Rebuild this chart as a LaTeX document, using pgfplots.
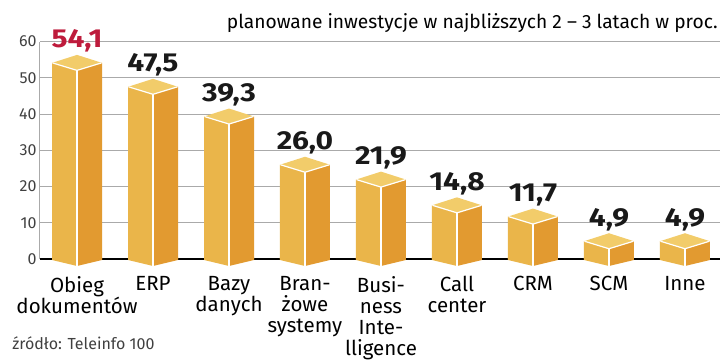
\documentclass[border=0pt]{standalone}
\usepackage{pgfplots}
\pgfplotsset{compat=1.18}
\usepackage{pgfplotstable}
\usepackage{fontspec}
\setmainfont{Fira Sans}
\newfontfamily\valfont{Fira Sans}[FakeStretch=1.15]
\definecolor{frontc}{HTML}{EAB54A}
\definecolor{sidec}{HTML}{E29A30}
\definecolor{topc}{HTML}{F2CC6A}
\definecolor{hl}{HTML}{BE1B3C}
\definecolor{gridc}{HTML}{AAAAAA}

\pgfdeclareplotmark{boxtop}{%
  \pgfpathmoveto{\pgfpoint{-25pt}{0pt}}%
  \pgfpathlineto{\pgfpoint{0pt}{8pt}}%
  \pgfpathlineto{\pgfpoint{25pt}{0pt}}%
  \pgfpathlineto{\pgfpoint{0pt}{-7.5pt}}%
  \pgfpathclose
  \pgfsetfillcolor{topc}%
  \pgfusepath{fill}%
  \pgfpathmoveto{\pgfpoint{-24.5pt}{0pt}}%
  \pgfpathlineto{\pgfpoint{0pt}{-7.5pt}}%
  \pgfpathlineto{\pgfpoint{24.5pt}{0pt}}%
  \pgfsetstrokecolor{white}%
  \pgfsetlinewidth{1.2pt}%
  \pgfusepath{stroke}%
}
\pgfdeclareplotmark{boxbottom}{%
  \pgfpathmoveto{\pgfpoint{-25pt}{1.5pt}}%
  \pgfpathlineto{\pgfpoint{-25pt}{-1pt}}%
  \pgfpathlineto{\pgfpoint{0pt}{-7pt}}%
  \pgfpathlineto{\pgfpoint{0pt}{1.5pt}}%
  \pgfpathclose
  \pgfsetfillcolor{frontc}%
  \pgfusepath{fill}%
  \pgfpathmoveto{\pgfpoint{0pt}{1.5pt}}%
  \pgfpathlineto{\pgfpoint{0pt}{-7pt}}%
  \pgfpathlineto{\pgfpoint{25pt}{-1pt}}%
  \pgfpathlineto{\pgfpoint{25pt}{1.5pt}}%
  \pgfpathclose
  \pgfsetfillcolor{sidec}%
  \pgfusepath{fill}%
  \pgfpathmoveto{\pgfpoint{0pt}{1.5pt}}%
  \pgfpathlineto{\pgfpoint{0pt}{-7pt}}%
  \pgfsetstrokecolor{white}%
  \pgfsetlinewidth{1.2pt}%
  \pgfusepath{stroke}%
}

\pgfplotstableread{
x y lab
0 54.1 54,1
1 47.5 47,5
2 39.3 39,3
3 26.0 26,0
4 21.9 21,9
5 14.8 14,8
6 11.7 11,7
7 4.9 4,9
8 4.9 4,9
}\data

\begin{document}
\begin{tikzpicture}
\path[use as bounding box] (-40pt,-102pt) rectangle (680pt,259pt);
\begin{axis}[
  at={(0pt,0pt)}, anchor=south west,
  scale only axis, width=680pt, height=217.5pt,
  xmin=-0.487, xmax=8.461, ymin=0, ymax=60,
  axis x line*=bottom, axis y line*=left,
  x axis line style={black, line width=2pt},
  y axis line style={gridc, line width=1pt},
  ytick={0,10,...,60},
  ymajorgrids, grid style={gridc, line width=0.8pt},
  xtick={0,...,8},
  xticklabels={{Obieg\\dokumentów}, ERP, {Bazy\\danych}, {Bran-\\żowe\\systemy}, {Busi-\\ness\\Inte-\\lligence}, {Call\\center}, CRM, SCM, Inne},
  major tick length=0pt,
  /pgf/number format/assume math mode=true,
  yticklabel style={font=\fontsize{16}{18}\selectfont, text=black!75},
  xticklabel style={align=center, font=\fontsize{20.5}{21}\selectfont, anchor=north, yshift=-14pt},
  title={planowane inwestycje w najbliższych 2 – 3 latach w proc.},
  title style={at={(rel axis cs:0.997,1.03)}, anchor=base east, font=\fontsize{19.2}{21}\selectfont, inner sep=0pt},
  clip=false,
]
\addplot[ybar, bar width=25pt, bar shift=-12.5pt, fill=frontc, draw=none, mark=none] table[x=x, y=y] {\data};
\addplot[ybar, bar width=25pt, bar shift=12.5pt, fill=sidec, draw=none, mark=none] table[x=x, y=y] {\data};
\addplot[ycomb, draw=white, line width=1.2pt, mark=none] table[x=x, y=y] {\data};
\addplot[only marks, mark=boxbottom] table[x=x, y expr=0] {\data};
\addplot[only marks, mark=boxtop] table[x=x, y=y] {\data};
\addplot[draw=none, mark=none, nodes near coords, point meta=explicit symbolic,
  every node near coord/.append style={anchor=base, yshift=15pt, font=\fontsize{26}{28}\selectfont\valfont\bfseries, text=hl},
  restrict x to domain=0:0] table[x=x, y=y, meta=lab] {\data};
\addplot[draw=none, mark=none, nodes near coords, point meta=explicit symbolic,
  every node near coord/.append style={anchor=base, yshift=15pt, font=\fontsize{26}{28}\selectfont\valfont\bfseries, text=black!90},
  restrict x to domain=1:8] table[x=x, y=y, meta=lab] {\data};
\node[anchor=base west, font=\fontsize{16}{18}\selectfont, text=black!75, inner sep=0pt] at (rel axis cs:-0.041,-0.418) {źródło: Teleinfo 100};
\end{axis}
\end{tikzpicture}
\end{document}
